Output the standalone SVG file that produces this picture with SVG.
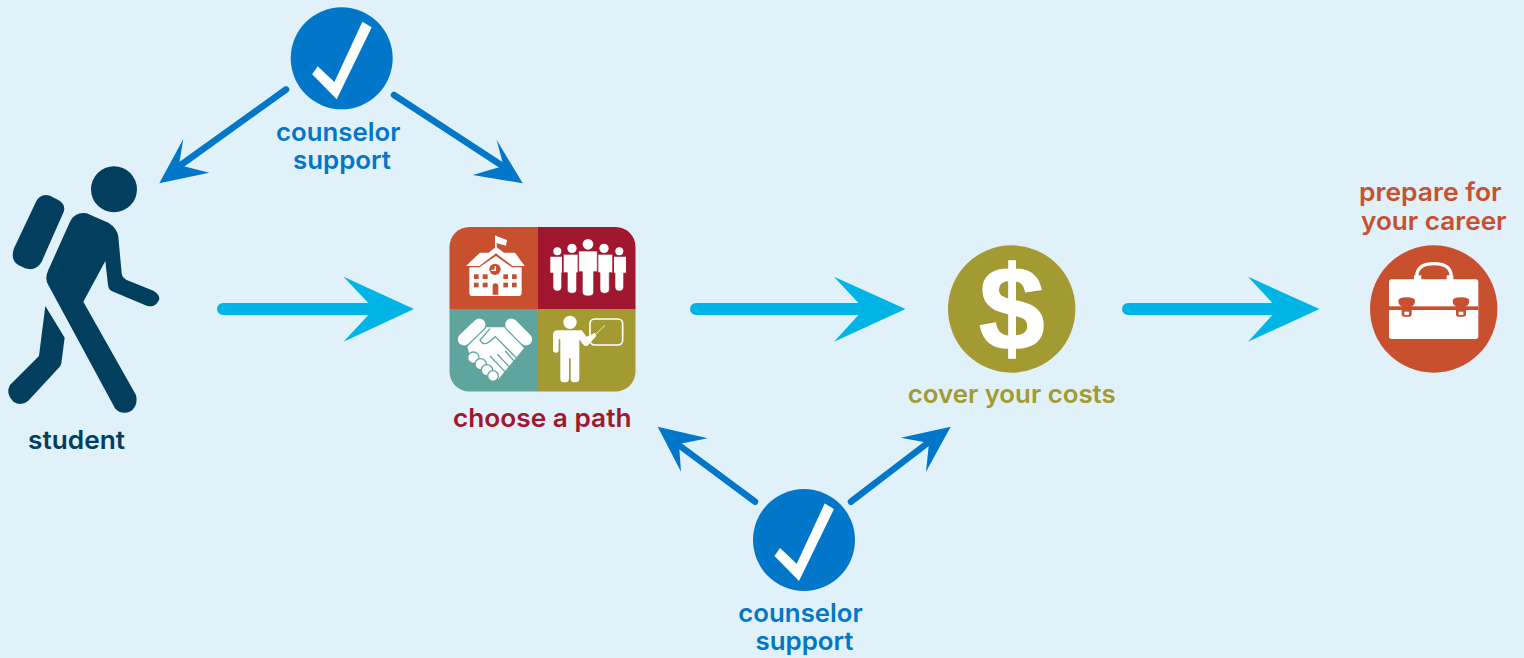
<svg xmlns="http://www.w3.org/2000/svg" width="1524" height="658" viewBox="0 0 1524 658">
<style>
text{font-family:"Inter","Noto Sans","Liberation Sans",sans-serif;font-weight:600;font-size:25.500px}
.blue{fill:#0277c9}.navy{fill:#023e5e}.mar{fill:#a0172f}.oli{fill:#a39a32}.rust{fill:#c9502f}.teal{fill:#5ea59d}.wh{fill:#fff}
.cy{stroke:#00b5e6;stroke-width:12;stroke-linecap:round;fill:none}.cyh{fill:#00b5e6}
.bl{stroke:#0277c9;stroke-width:6.5;stroke-linecap:round;fill:none}.blh{fill:#0277c9}
</style>
<defs>
<clipPath id="tile"><rect x="449.5" y="227" width="186" height="164.500" rx="20"/></clipPath>
<g id="check"><circle r="51" class="blue"/><polygon class="wh" points="30,-31 20.700,-36.500 -7.300,23.700 -24,8 -29.500,16 -5,41"/></g>
</defs>
<rect width="1524" height="658" fill="#e0f1fa"/>

<g id="connectors">
<path class="cy" d="M223 309H385M696 309H875M1128 309H1285"/>
<polygon class="cyh" points="414,309 343.500,276.700 374,309 343.500,341.700"/>
<polygon class="cyh" points="905.500,309 834,276.700 864,309 834,341.700"/>
<polygon class="cyh" points="1319.500,309 1248,276.700 1278,309 1248,341.700"/>
<path class="bl" d="M286 89.500L178 167M394 95L505 167.500M755 501.700L676 443M851 501.700L929 442"/>
<polygon class="blh" points="159.300,183.300 183.300,139 179,165 209.300,172.700"/>
<polygon class="blh" points="522.700,183.300 496.700,140 503.500,166 472.700,175"/>
<polygon class="blh" points="657.700,426.700 707.700,438.300 679,444 681,471.700"/>
<polygon class="blh" points="950.700,426.700 900.700,437.700 929,443 926,471.700"/>
</g>

<g id="student">
<g class="navy" transform="translate(0,160) scale(.3333)">
<circle cx="342" cy="88" r="69"/>
<path d="M108,125Q122,98 150,107L175,120Q200,135 190,158L125,305Q108,335 75,325L55,315Q30,300 42,265Z"/>
<path d="M210,185Q225,155 260,160L325,188Q352,205 355,230L365,340Q368,355 380,360L460,392Q482,405 477,420Q465,445 440,437L340,395Q325,390 324,375L316,303L250,425L408,705Q415,735 395,752Q365,768 345,745L145,375Q133,355 145,330Z"/>
<path d="M136,438L194,533L184,610Q182,620 175,625L85,722Q65,740 40,725Q15,700 30,675L117,588Z"/>
</g>
<text class="navy" x="28" y="449" textLength="97" lengthAdjust="spacingAndGlyphs">student</text>
</g>

<g id="counselor-top">
<use href="#check" x="341.700" y="58.300"/>
<text class="blue" x="276" y="140.700" textLength="124.500" lengthAdjust="spacingAndGlyphs">counselor</text>
<text class="blue" x="293" y="168.500" textLength="98" lengthAdjust="spacingAndGlyphs">support</text>
</g>

<g id="choose-a-path">
<g clip-path="url(#tile)">
<rect x="449" y="227" width="89" height="82" class="rust"/>
<rect x="538" y="227" width="98" height="82" class="mar"/>
<rect x="449" y="309" width="89" height="83" class="teal"/>
<rect x="538" y="309" width="98" height="83" class="oli"/>
</g>
<g transform="translate(440,220) scale(.3333)">
<!-- school -->
<g class="wh">
<rect x="165" y="47" width="5" height="40"/>
<polygon points="166,47 201,60 198,77 166,68"/>
<polygon points="78,138 120,98 146,98 168,80 192,98 225,98 254,138 218,138 168,100 118,138"/>
<path d="M88,142H118L168,108L216,142H245V218Q245,228 235,228H98Q88,228 88,218Z"/>
</g>
<g class="rust">
<circle cx="165" cy="148" r="17"/>
<rect x="102" y="163" width="14" height="14"/><rect x="128" y="163" width="15" height="14"/><rect x="190" y="163" width="14" height="14"/><rect x="216" y="163" width="14" height="14"/>
<rect x="102" y="188" width="14" height="14"/><rect x="128" y="188" width="15" height="14"/><rect x="190" y="188" width="14" height="14"/><rect x="216" y="188" width="14" height="14"/>
<path d="M158,224V198Q158,190 166,190Q175,190 175,198V224Z"/>
</g>
<path d="M166,138V151H154" fill="none" stroke="#fff" stroke-width="4"/>
<!-- people -->
<g class="wh" stroke="#a0172f" stroke-width="2">
<circle cx="352" cy="94" r="12" stroke="none"/><circle cx="538" cy="94" r="12" stroke="none"/>
<path d="M331,110H366V158H364V200Q364,212 352,212Q340,212 340,200V158H331Z" stroke="none"/>
<path d="M522,110H558V158H550V200Q550,212 538,212Q526,212 526,200V158H522Z" stroke="none"/>
<circle cx="396" cy="85" r="14" stroke="none"/><circle cx="492" cy="85" r="14" stroke="none"/>
<path d="M370,103H414V158H410V208Q410,220 396,220Q382,220 382,208V158H370Z"/>
<path d="M474,103H518V158H508V208Q508,220 494,220Q480,220 480,208V158H474Z"/>
<circle cx="444" cy="73" r="16" stroke="none"/>
<path d="M416,93H472V155H461V216Q461,228 444,228Q427,228 427,216V155H416Z"/>
</g>
<!-- handshake -->
<path class="wh" d="M82,380L132,322L198,322L252,385L235,405L175,478L150,462L95,425Z"/>
<g class="wh" stroke="#5ea59d" stroke-width="4">
<circle cx="100" cy="413" r="17"/><circle cx="122" cy="433" r="17"/><circle cx="141" cy="451" r="17"/><circle cx="159" cy="468" r="16"/>
</g>
<path d="M150,326L120,360Q130,380 150,364L166,350L240,425M150,408L195,455M172,403L214,447M196,393L228,430" fill="none" stroke="#5ea59d" stroke-width="4"/>
<path d="M72,358L118,314M214,314L258,358" fill="none" stroke="#5ea59d" stroke-width="44" stroke-linecap="round"/>
<path d="M72,358L118,314M214,314L258,358" fill="none" stroke="#fff" stroke-width="37" stroke-linecap="round"/>
<!-- teacher -->
<circle cx="390" cy="307" r="20" class="wh"/>
<path class="wh" d="M339,345Q339,331 353,331H425L440,350L465,338L469,348L442,378Q434,380 428,372L418,358V412V477Q418,487 405,487Q392,487 392,477V415H387V477Q387,487 374,487Q361,487 361,477V358H356V390Q356,398 348,398Q339,398 339,390Z"/>
<rect x="450" y="297" width="98" height="78" rx="14" fill="none" stroke="#fff" stroke-width="5"/>
<path d="M442,368L495,316" stroke="#fff" stroke-width="2.500" fill="none"/>
</g>
<text class="mar" x="453" y="427" textLength="178.500" lengthAdjust="spacingAndGlyphs">choose a path</text>
</g>

<g id="cover-your-costs">
<circle cx="1011.700" cy="309" r="63.700" class="oli"/>
<text class="wh" x="1011.700" y="349" text-anchor="middle" stroke="#fff" stroke-width="1.500" style="font-family:'Liberation Sans',sans-serif;font-weight:700;font-size:118px">$</text>
<text class="oli" x="907.700" y="402.700" textLength="208" lengthAdjust="spacingAndGlyphs">cover your costs</text>
</g>

<g id="prepare-for-your-career">
<text class="rust" x="1359" y="201" textLength="142.500" lengthAdjust="spacingAndGlyphs">prepare for</text>
<text class="rust" x="1361" y="230" textLength="145.500" lengthAdjust="spacingAndGlyphs">your career</text>
<circle cx="1433.700" cy="309" r="63.700" class="rust"/>
<g transform="translate(1340,230) scale(.3333)">
<path d="M231,150V130Q238,101 282,101Q326,101 333,130V150" fill="none" stroke="#fff" stroke-width="10"/>
<rect x="222" y="136" width="22" height="14" class="wh"/><rect x="320" y="136" width="20" height="14" class="wh"/>
<rect x="147" y="148" width="268" height="179" rx="8" class="wh"/>
<rect x="147" y="229" width="268" height="11" class="rust"/>
<path class="rust" d="M175,212Q175,203 200,202Q225,203 225,212Q225,224 215,229V252Q215,260 207,260H192Q185,260 185,252V229Q175,224 175,212Z"/>
<path class="rust" d="M338,212Q338,203 363,202Q388,203 388,212Q388,224 378,229V252Q378,260 370,260H355Q348,260 348,252V229Q338,224 338,212Z"/>
<rect x="193" y="245" width="14" height="10" class="wh"/><rect x="356" y="245" width="14" height="10" class="wh"/>
</g>
</g>

<g id="counselor-bottom">
<use href="#check" x="804" y="540"/>
<text class="blue" x="738.300" y="621.700" textLength="124.500" lengthAdjust="spacingAndGlyphs">counselor</text>
<text class="blue" x="755.500" y="650" textLength="98" lengthAdjust="spacingAndGlyphs">support</text>
</g>
</svg>
